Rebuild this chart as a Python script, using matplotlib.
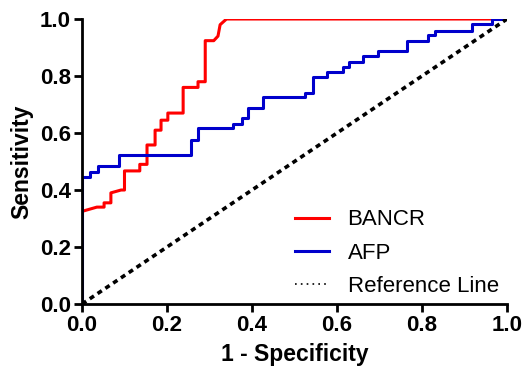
import numpy as np
import matplotlib.pyplot as plt

plt.rcParams['font.family'] = ['Liberation Sans', 'DejaVu Sans']

# ROC curve points
bancr_fpr = [0, 0, 0.035, 0.052, 0.052, 0.068, 0.068, 0.092, 0.10, 0.10, 0.136, 0.136,
             0.153, 0.153, 0.172, 0.172, 0.186, 0.186, 0.202, 0.202, 0.238, 0.238,
             0.273, 0.273, 0.29, 0.29, 0.31, 0.32, 0.325, 0.34, 1.0]
bancr_tpr = [0, 0.325, 0.34, 0.34, 0.355, 0.355, 0.39, 0.40, 0.40, 0.467, 0.467, 0.49,
             0.49, 0.558, 0.558, 0.61, 0.61, 0.645, 0.645, 0.67, 0.67, 0.76,
             0.76, 0.78, 0.78, 0.924, 0.924, 0.94, 0.98, 1.0, 1.0]

afp_fpr = [0, 0, 0.018, 0.018, 0.038, 0.038, 0.086, 0.086, 0.256, 0.256, 0.273, 0.273,
           0.355, 0.355, 0.376, 0.376, 0.39, 0.39, 0.425, 0.425, 0.525, 0.525,
           0.543, 0.543, 0.576, 0.576, 0.613, 0.613, 0.628, 0.628, 0.661, 0.661,
           0.696, 0.696, 0.764, 0.764, 0.814, 0.814, 0.83, 0.83, 0.917, 0.917,
           0.965, 0.965, 1.0]
afp_tpr = [0, 0.447, 0.447, 0.464, 0.464, 0.485, 0.485, 0.523, 0.523, 0.575, 0.575, 0.617,
           0.617, 0.632, 0.632, 0.653, 0.653, 0.688, 0.688, 0.726, 0.726, 0.742,
           0.742, 0.795, 0.795, 0.815, 0.815, 0.833, 0.833, 0.85, 0.85, 0.87,
           0.87, 0.888, 0.888, 0.924, 0.924, 0.944, 0.944, 0.959, 0.959, 0.981,
           0.981, 1.0, 1.0]

ref = [0, 1]
ticks = [0.0, 0.2, 0.4, 0.6, 0.8, 1.0]

fig = plt.figure(figsize=(5.31, 3.75), dpi=100)
ax = fig.add_axes([0.1544, 0.1893, 0.8004, 0.76])

ax.plot(bancr_fpr, bancr_tpr, color='#ff0000', lw=2.2, label='BANCR')
ax.plot(afp_fpr, afp_tpr, color='#0000cc', lw=2.2, label='AFP')
ax.plot(ref, ref, color='black', lw=2.6, ls=(0, (1.4, 1.2)))
ax.plot([], [], color='black', lw=1.2, ls=(0, (1, 2.5)), label='Reference Line')

ax.set_xlim(0, 1)
ax.set_ylim(0, 1)
ax.set_xticks(ticks)
ax.set_yticks(ticks)
ax.set_xticklabels(['%.1f' % t for t in ticks], fontweight='bold', fontsize=16)
ax.set_yticklabels(['%.1f' % t for t in ticks], fontweight='bold', fontsize=16)
ax.tick_params(width=2, length=6, direction='out', pad=2)
for s in ['top', 'right']:
    ax.spines[s].set_visible(False)
for s in ['left', 'bottom']:
    ax.spines[s].set_linewidth(2)
ax.set_xlabel('1 - Specificity', fontweight='bold', fontsize=16.5, labelpad=5)
ax.set_ylabel('Sensitivity', fontweight='bold', fontsize=16.5, labelpad=5)

ax.legend(loc='lower left', bbox_to_anchor=(0.455, -0.045), frameon=False, fontsize=16,
          handlelength=1.5, handletextpad=0.85, labelspacing=0.55)

fig.savefig('out.png', dpi=100)
